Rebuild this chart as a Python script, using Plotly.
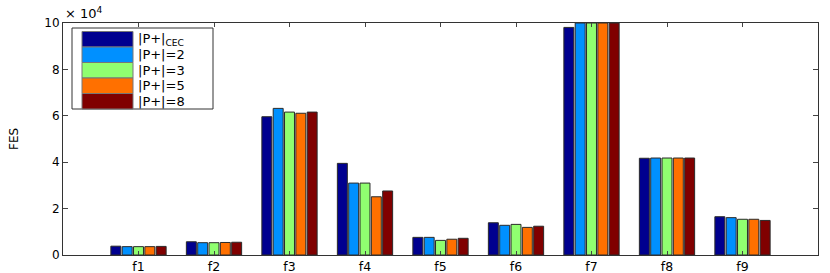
import plotly.graph_objects as go

categories = ["f1", "f2", "f3", "f4", "f5", "f6", "f7", "f8", "f9"]
series_names = ["|P+|<sub>CEC</sub>", "|P+|=2", "|P+|=3", "|P+|=5", "|P+|=8"]
# values in units of 1e4 FES
s_cec = [0.38, 0.57, 5.96, 3.95, 0.76, 1.39, 9.81, 4.17, 1.65]
s_2 = [0.36, 0.53, 6.32, 3.10, 0.76, 1.28, 10.0, 4.18, 1.61]
s_3 = [0.36, 0.53, 6.16, 3.10, 0.63, 1.32, 10.0, 4.18, 1.54]
s_5 = [0.36, 0.54, 6.11, 2.51, 0.68, 1.19, 10.0, 4.18, 1.54]
s_8 = [0.37, 0.55, 6.16, 2.76, 0.72, 1.24, 10.0, 4.18, 1.49]
series_values = [s_cec, s_2, s_3, s_5, s_8]
colors = ["#00008F", "#0090FF", "#90FF70", "#FF7000", "#800000"]
y_ticks = [0, 2, 4, 6, 8, 10]

xpos = list(range(1, len(categories) + 1))

fig = go.Figure()
for name, vals, c in zip(series_names, series_values, colors):
    fig.add_trace(go.Bar(x=xpos, y=vals, name=name, marker=dict(color=c, line=dict(color="#2a2a2a", width=1)),
                         showlegend=False))

W, H = 830, 273
ml, mr, mt, mb = 63, 12, 23, 18
pw, ph = W - ml - mr, H - mt - mb
FONT = "DejaVu Sans, Liberation Sans, Arial"

def px(x):
    return (x - ml) / pw

def py(y):
    return 1 - (y - mt) / ph

shapes = []
annotations = []
# legend box
shapes.append(dict(type="rect", xref="paper", yref="paper", x0=px(72), x1=px(213), y0=py(109), y1=py(28),
                   line=dict(color="#333", width=1), fillcolor="white", layer="above"))
row_h = 15.5
for i, (name, c) in enumerate(zip(series_names, colors)):
    top = 31.5 + i * row_h
    shapes.append(dict(type="rect", xref="paper", yref="paper", x0=px(82), x1=px(133),
                       y0=py(top + row_h), y1=py(top), line=dict(color="#777", width=1), fillcolor=c, layer="above"))
    annotations.append(dict(xref="paper", yref="paper", x=px(136), y=py(top + row_h / 2), text=name,
                            showarrow=False, xanchor="left", yanchor="middle",
                            font=dict(size=13, color="black", family=FONT)))

annotations.append(dict(xref="paper", yref="paper", x=px(63), y=py(13), text="× 10<sup>4</sup>", showarrow=False,
                        xanchor="left", yanchor="middle", font=dict(size=13, color="black", family=FONT)))
annotations.append(dict(xref="paper", yref="paper", x=px(14), y=py(139), text="FES", showarrow=False, textangle=-90,
                        xanchor="center", yanchor="middle", font=dict(size=12, color="black", family=FONT)))

fig.update_layout(
    width=W, height=H,
    margin=dict(l=ml, r=mr, t=mt, b=mb, autoexpand=False),
    paper_bgcolor="white", plot_bgcolor="white",
    barmode="group", bargap=0.25, bargroupgap=0.12,
    font=dict(family=FONT, size=13, color="black"),
    shapes=shapes, annotations=annotations,
    xaxis=dict(range=[0, 10], tickvals=xpos, ticktext=categories, ticks="inside", ticklen=4, automargin=False,
               showline=True, linecolor="#333", linewidth=1, mirror="ticks", showgrid=False, zeroline=False,
               tickfont=dict(size=12.5)),
    yaxis=dict(range=[0, 10], tickvals=y_ticks, ticks="inside", ticklen=5, showline=True, linecolor="#333",
               linewidth=1, mirror="ticks", showgrid=False, zeroline=False, tickfont=dict(size=12), automargin=False),
)

fig.write_html("out.html", config={"displayModeBar": False}, post_script="document.body.style.margin='0px';")
